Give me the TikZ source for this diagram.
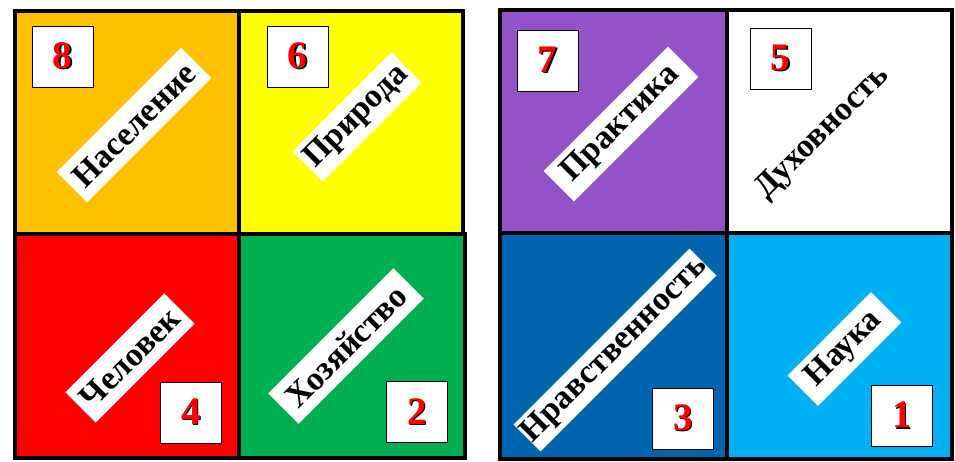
\documentclass[tikz,border=0pt]{standalone}
\usepackage{fontspec}
\setmainfont{Liberation Serif}
\definecolor{corange}{HTML}{FFC000}
\definecolor{cyellow}{HTML}{FFFF00}
\definecolor{cred}{HTML}{FF0000}
\definecolor{cgreen}{HTML}{00B050}
\definecolor{cpurple}{HTML}{9452C8}
\definecolor{cdblue}{HTML}{0064AE}
\definecolor{clblue}{HTML}{00B0F0}
\newcommand{\numtxt}[1]{\rlap{\kern1.3pt\raisebox{-1.3pt}{\color{black}#1}}\textcolor{red}{#1}}
\tikzset{
  cell/.style={draw=black, line width=4.5pt},
  numbox/.style={draw=black, line width=0.8pt, fill=white, minimum width=61pt, minimum height=61pt, inner sep=0pt,
    font=\fontsize{39}{39}\selectfont\bfseries},
  lab/.style={fill=white, rotate=45, minimum height=43pt, inner sep=0pt, text=black,
    font=\fontsize{33.5}{33.5}\selectfont\bfseries}
}
\begin{document}
\begin{tikzpicture}[x=1pt,y=-1pt]
\useasboundingbox (0,0) rectangle (955,462);
\fill[white] (0,0) rectangle (955,462);
% left block
\draw[cell, fill=corange] (15,11) rectangle (239,234) coordinate (c8);
\draw[cell, fill=cyellow] (239,11) rectangle (463,234) coordinate (c6);
\draw[cell, fill=cred] (15,234) rectangle (239,458) coordinate (c4);
\draw[cell, fill=cgreen] (239,234) rectangle (465,458) coordinate (c2);
% right block
\draw[cell, fill=cpurple] (500,10) rectangle (727,233) coordinate (c7);
\draw[cell, fill=white] (727,10) rectangle (952,233) coordinate (c5);
\draw[cell, fill=cdblue] (500,233) rectangle (727,459) coordinate (c3);
\draw[cell, fill=clblue] (727,233) rectangle (952,459) coordinate (c1);
% labels
\node[lab, minimum width=176pt] (l8) at (134,125) {Население};
\node[lab, minimum width=140pt] (l6) at (357,117) {Природа};
\node[lab, minimum width=140pt] (l4) at (130,358) {Человек};
\node[lab, minimum width=177pt] (l2) at (346,346) {Хозяйство};
\node[lab, minimum width=176pt] (l7) at (621,124) {Практика};
\node[lab, minimum width=180pt] (l5) at (823,133) {Духовность};
\node[lab, minimum width=242pt, minimum height=38pt] (l3) at (615,350) {Нравственность};
\node[lab, minimum width=118pt] (l1) at (844.5,349) {Наука};
% number boxes
\node[numbox] (n8) at (62.5,56.5) {\numtxt{8}};
\node[numbox] (n6) at (297.5,56.5) {\numtxt{6}};
\node[numbox] (n4) at (191,412.5) {\numtxt{4}};
\node[numbox] (n2) at (417,412) {\numtxt{2}};
\node[numbox] (n7) at (547.5,60.5) {\numtxt{7}};
\node[numbox] (n5) at (780.5,58.5) {\numtxt{5}};
\node[numbox] (n3) at (683,418.5) {\numtxt{3}};
\node[numbox] (n1) at (902,415.5) {\numtxt{1}};
\end{tikzpicture}
\end{document}
